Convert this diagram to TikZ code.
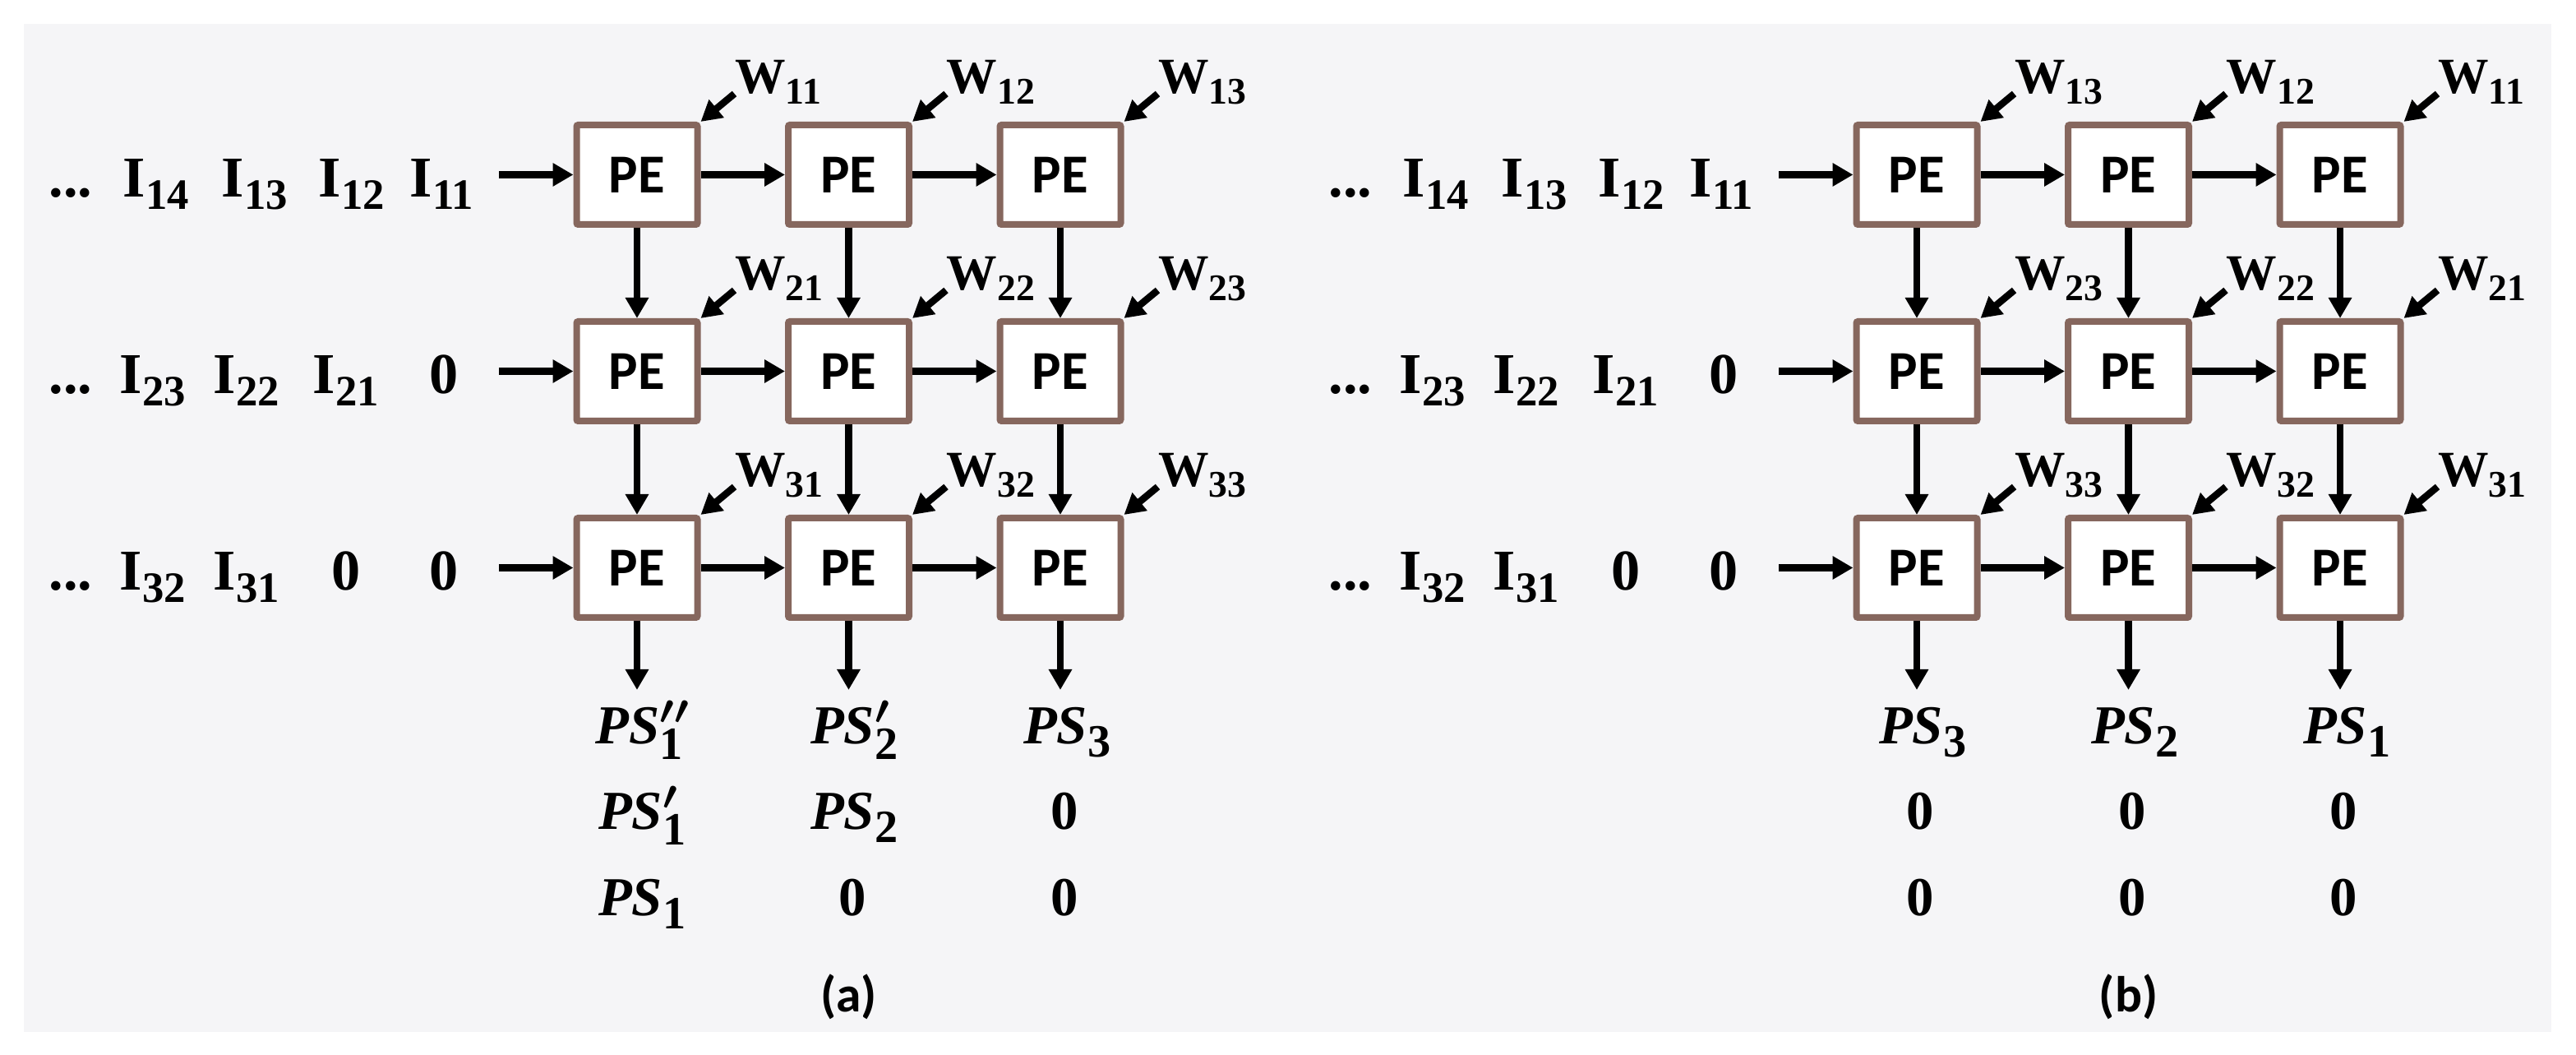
\documentclass[tikz,border=0pt]{standalone}
\usepackage{fontspec}
\setmainfont{Liberation Serif}
\newfontfamily\pefont{Carlito}
\usetikzlibrary{arrows.meta,positioning}
\definecolor{pebrown}{HTML}{86675E}
\definecolor{bggray}{HTML}{F5F5F7}
\newcommand{\lo}[2][15]{\raisebox{-0.21em}{\fontsize{#1}{#1}\selectfont\bfseries #2}}
\newcommand{\inp}[1]{\textbf{I}\lo{#1}}
\newcommand{\ps}[2][]{$\textbf{\textit{PS}}#1_{\mbox{\fontsize{16}{16}\selectfont\bfseries #2}}$}
\tikzset{
	pe/.style={draw=pebrown,line width=0.08cm,fill=white,rounded corners=0.02cm,minimum width=1.47cm,minimum height=1.21cm,inner sep=0pt,font=\pefont\bfseries\fontsize{19}{19}\selectfont},
	flow/.style={line width=0.085cm,-{Triangle[length=0.25cm,width=0.27cm]}},
	inlbl/.style={anchor=base west,inner sep=0pt,font=\bfseries\fontsize{20}{20}\selectfont},
	wlbl/.style={anchor=base west,inner sep=0pt,font=\bfseries\fontsize{17.5}{17.5}\selectfont},
	pslbl/.style={anchor=base,inner sep=0pt,font=\bfseries\boldmath\fontsize{19}{19}\selectfont},
	panelcap/.style={inner sep=0pt,font=\pefont\bfseries\fontsize{17.5}{17.5}\selectfont}
}
\begin{document}
\begin{tikzpicture}
	\useasboundingbox (0,0) rectangle (31.34,-12.83);
	\fill[bggray] (0.29,-0.29) rectangle (31.04,-12.55);
	\foreach \p/\dx/\rev in {a/0/0,b/15.57/1}{
		\foreach \r/\y in {1/-2.125,2/-4.515,3/-6.905}{
			\foreach \c/\x in {1/7.75,2/10.325,3/12.9}{
				\node[pe] (pe-\p-\r\c) at (\x+\dx,\y) {PE};
				\pgfmathtruncatemacro\wc{\rev==1 ? 4-\c : \c}
				\node[wlbl] (w-\p-\r\c) at ([shift={(0.41,0.34)}]pe-\p-\r\c.north east) {W\lo[13]{\r\wc}};
				\draw[flow] (w-\p-\r\c.base west) -- (pe-\p-\r\c.north east);
			}
			\coordinate (in-\p-\r) at (6.07+\dx,\y);
			\draw[flow] (in-\p-\r) -- (pe-\p-\r1);
			\draw[flow] (pe-\p-\r1) -- (pe-\p-\r2);
			\draw[flow] (pe-\p-\r2) -- (pe-\p-\r3);
		}
		\foreach \t/\x [count=\k] in {{...}/0.59,{\inp{14}}/1.49,{\inp{13}}/2.69,{\inp{12}}/3.87,{\inp{11}}/4.98}
			\node[inlbl] (i-\p-1\k) at (\x+\dx,-2.395) {\t};
		\foreach \t/\x [count=\k] in {{...}/0.59,{\inp{23}}/1.45,{\inp{22}}/2.59,{\inp{21}}/3.80,{0}/5.22}
			\node[inlbl] (i-\p-2\k) at (\x+\dx,-4.785) {\t};
		\foreach \t/\x [count=\k] in {{...}/0.59,{\inp{32}}/1.45,{\inp{31}}/2.59,{0}/4.03,{0}/5.22}
			\node[inlbl] (i-\p-3\k) at (\x+\dx,-7.175) {\t};
		\foreach \c in {1,2,3}{
			\draw[flow] (pe-\p-1\c) -- (pe-\p-2\c);
			\draw[flow] (pe-\p-2\c) -- (pe-\p-3\c);
			\coordinate (out-\p-\c) at ([yshift=-0.84cm]pe-\p-3\c.south);
			\draw[flow] (pe-\p-3\c) -- (out-\p-\c);
		}
	}
	\foreach \t/\x/\y [count=\k] in {{\ps['']{1}}/7.82/-9.05,{\ps[']{1}}/7.82/-10.09,{\ps{1}}/7.82/-11.14,
		{\ps[']{2}}/10.40/-9.05,{\ps{2}}/10.40/-10.09,{0}/10.37/-11.14,
		{\ps{3}}/12.99/-9.05,{0}/12.95/-10.09,{0}/12.95/-11.14}
		\node[pslbl] (ps-a-\k) at (\x,\y) {\t};
	\foreach \t/\x/\y [count=\k] in {{\ps{3}}/23.40/-9.05,{0}/23.36/-10.09,{0}/23.36/-11.14,
		{\ps{2}}/25.98/-9.05,{0}/25.94/-10.09,{0}/25.94/-11.14,
		{\ps{1}}/28.56/-9.05,{0}/28.51/-10.09,{0}/28.51/-11.14}
		\node[pslbl] (ps-b-\k) at (\x,\y) {\t};
	\node[panelcap] (cap-a) at (10.325,-12.12) {(a)};
	\node[panelcap] (cap-b) at (25.895,-12.12) {(b)};
\end{tikzpicture}
\end{document}
